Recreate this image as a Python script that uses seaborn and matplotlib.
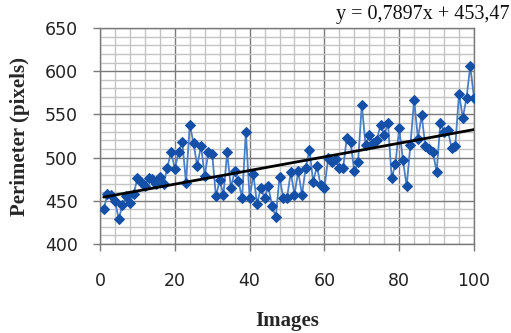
import numpy as np
import pandas as pd
import matplotlib
matplotlib.use("Agg")
import matplotlib.pyplot as plt
import seaborn as sns
from matplotlib.ticker import MultipleLocator

# ---- data ----
images = list(range(1, 101))
perimeter = [
    440, 458, 457, 450, 429, 445, 455, 448, 458, 476,
    472, 467, 476, 475, 470, 478, 470, 488, 507, 487,
    506, 518, 471, 538, 517, 490, 514, 479, 507, 504,
    455, 474, 457, 506, 465, 484, 473, 453, 530, 453,
    481, 446, 465, 453, 467, 444, 431, 478, 453, 453,
    483, 457, 484, 457, 488, 509, 472, 490, 468, 465,
    499, 495, 498, 488, 488, 523, 518, 484, 495, 561,
    515, 526, 517, 520, 538, 526, 540, 476, 493, 534,
    497, 467, 515, 567, 522, 549, 513, 510, 507, 483,
    540, 530, 532, 511, 514, 574, 546, 569, 606, 569,
]
trend_slope = 0.7897
trend_intercept = 453.47
trend_label = "y = 0,7897x + 453,47"
x_label = "Images"
y_label = "Perimeter (pixels)"

df = pd.DataFrame({"Images": images, "Perimeter": perimeter})

sns.set_style("white")
W, H = 511, 333
fig = plt.figure(figsize=(W / 100, H / 100), dpi=100)
left, right, top, bottom = 100, 474, 28, 244
ax = fig.add_axes([left / W, 1 - bottom / H, (right - left) / W, (bottom - top) / H])

ax.set_axisbelow(True)
ax.set_xlim(0, 100)
ax.set_ylim(400, 650)
ax.xaxis.set_major_locator(MultipleLocator(20))
ax.xaxis.set_minor_locator(MultipleLocator(4))
ax.yaxis.set_major_locator(MultipleLocator(50))
ax.yaxis.set_minor_locator(MultipleLocator(10))
ax.grid(which="minor", color="#c4c4c4", lw=1.0)
ax.grid(which="major", color="#7a7a7a", lw=1.0)
for s in ax.spines.values():
    s.set_color("#7a7a7a")
    s.set_linewidth(1.0)

sns.lineplot(data=df, x="Images", y="Perimeter", ax=ax, color="#4a7ec7",
             lw=1.3, marker="D", markersize=5.5, markerfacecolor="#1550a8",
             markeredgecolor="#1550a8", zorder=3)

xs = np.array([images[0], images[-1]], dtype=float)
ax.plot(xs, trend_slope * xs + trend_intercept, color="black", lw=2.0, zorder=4)

ax.tick_params(which="minor", length=0)
ax.tick_params(which="major", bottom=True, left=True, length=5, width=1,
               color="#7a7a7a", direction="out", labelsize=12.5,
               labelcolor="#222222")
ax.tick_params(axis="x", pad=15)
ax.tick_params(axis="y", pad=11)

ax.set_xlabel(x_label, family="Liberation Serif", weight="bold", fontsize=15)
ax.xaxis.set_label_coords(0.5, -0.31)
ax.set_ylabel("")
fig.text(20 / W, 1 - 136 / H, y_label, rotation=90, ha="center", va="center",
         family="Liberation Serif", weight="bold", fontsize=15)
fig.text(1 - 1 / W, 1 - 14 / H, trend_label, ha="right", va="center",
         family="Liberation Serif", fontsize=14.5, color="#111111")

fig.savefig("out.png", dpi=100)
